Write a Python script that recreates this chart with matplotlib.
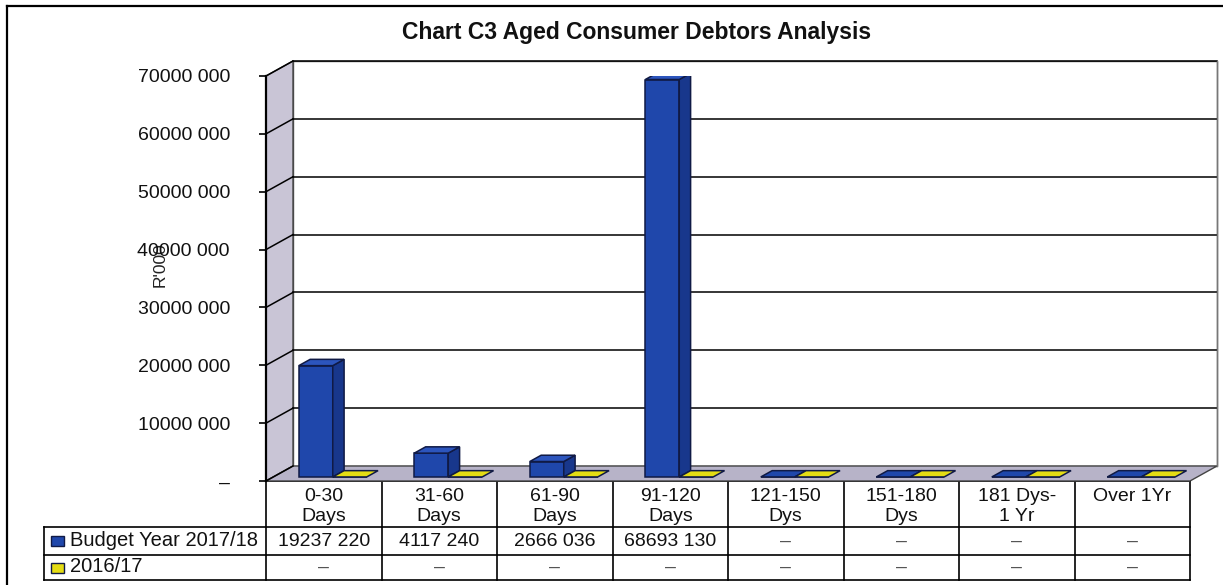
import matplotlib.pyplot as plt
from matplotlib.patches import Polygon, Rectangle
from matplotlib.transforms import blended_transform_factory

plt.rcParams['font.family'] = ['Liberation Sans', 'DejaVu Sans']

# data
categories = ['0-30\nDays', '31-60\nDays', '61-90\nDays', '91-120\nDays',
              '121-150\nDys', '151-180\nDys', '181 Dys-\n1 Yr', 'Over 1Yr']
budget_2017 = [19237220, 4117240, 2666036, 68693130, 0, 0, 0, 0]
prior_2016 = [0, 0, 0, 0, 0, 0, 0, 0]
series_names = ['Budget Year 2017/18', '2016/17']
yticks = [0, 10000000, 20000000, 30000000, 40000000, 50000000, 60000000, 70000000]


def fmt(v):
    # same odd grouping as the source sheet: "19237 220"
    if v == 0:
        return '\u2013'
    return f'{v // 1000} {v % 1000:03d}'


W, H = 1223, 585
fig = plt.figure(figsize=(W / 100, H / 100), dpi=100)

# background axes in pixel units for frame, title and table
bg = fig.add_axes([0, 0, 1, 1])
bg.set_xlim(0, W)
bg.set_ylim(H, 0)
bg.axis('off')

# main plot area (front plane of the 3d box)
ax = fig.add_axes([266 / W, (H - 481) / H, 924 / W, 405 / H])
ax.set_xlim(-0.5, 7.5)
ax.set_ylim(0, 70000000)
ax.patch.set_visible(False)
for s in ['top', 'right', 'bottom']:
    ax.spines[s].set_visible(False)
ax.spines['left'].set_linewidth(1.6)
ax.set_xticks([])
ax.set_yticks(yticks, [fmt(v) for v in yticks])
ax.tick_params(axis='y', length=5, width=1.2, pad=21, labelsize=14, labelcolor='#111111')

# depth of the box in data units
DX = 27 / 115.5
DY = 15 * 70000000 / 405
x0, x1 = -0.5, 7.5
ytop = 70000000

wall_col = '#c9c5d6'
floor_col = '#b7b3c8'

# back wall
ax.add_patch(Polygon([(x0 + DX, DY), (x0 + DX, ytop + DY), (x1 + DX, ytop + DY), (x1 + DX, DY)],
                     closed=True, facecolor='white', edgecolor='#555555', lw=1.0,
                     clip_on=False, zorder=0.5))
# side wall
ax.add_patch(Polygon([(x0, 0), (x0, ytop), (x0 + DX, ytop + DY), (x0 + DX, DY)],
                     closed=True, facecolor=wall_col, edgecolor='#444444', lw=1.0,
                     clip_on=False, zorder=0.6))
# floor
ax.add_patch(Polygon([(x0, 0), (x1, 0), (x1 + DX, DY), (x0 + DX, DY)],
                     closed=True, facecolor=floor_col, edgecolor='#444444', lw=1.0,
                     clip_on=False, zorder=0.6))

# gridlines on back and side wall
for t in yticks[1:]:
    ax.plot([x0 + DX, x1 + DX], [t + DY, t + DY], color='black', lw=1.1, clip_on=False, zorder=0.8)
    ax.plot([x0, x0 + DX], [t, t + DY], color='black', lw=1.1, clip_on=False, zorder=0.8)
ax.plot([x0, x0 + DX], [0, DY], color='black', lw=1.1, clip_on=False, zorder=0.8)
ax.plot([x1 + DX, x1 + DX], [DY, ytop + DY], color='#777777', lw=1.0, clip_on=False, zorder=0.8)

# 3d bars
bw = 0.294
f0 = 0.27
ddx, ddy = 0.42 * DX, 0.42 * DY
base = f0 * DY
series = [
    (budget_2017, -0.216, '#1f47ab', '#18378c', '#2c55bd'),
    (prior_2016, -0.216 + bw, '#e4dc14', '#b8b010', '#ece424'),
]
edge = '#101a45'
for vals, off, front, side, top in series:
    xs = [i + off for i in range(len(vals))]
    ax.bar(xs, vals, width=bw, bottom=base, align='edge', color=front,
           edgecolor=edge, lw=1.1, zorder=3)
    for x, v in zip(xs, vals):
        t = base + v
        if v > 0:
            ax.add_patch(Polygon([(x + bw, base), (x + bw + ddx, base + ddy),
                                  (x + bw + ddx, t + ddy), (x + bw, t)],
                                 closed=True, facecolor=side, edgecolor=edge, lw=1.1, zorder=3))
        ax.add_patch(Polygon([(x, t), (x + bw, t), (x + bw + ddx, t + ddy), (x + ddx, t + ddy)],
                             closed=True, facecolor=top if v > 0 else front,
                             edgecolor=edge, lw=1.1, zorder=3))

# y label
bg.text(160, 265, "R'000", rotation=90, ha='center', va='center', fontsize=12.5,
        color='#222222')

# title
bg.text(637, 32, 'Chart C3 Aged Consumer Debtors Analysis', ha='center', va='center',
        fontsize=16.5, fontweight='bold', color='#111111')

# outer frame
bg.plot([7, 7], [H, 6], color='black', lw=1.6)
bg.plot([7, W], [6, 6], color='black', lw=1.6)

# data table
tr = blended_transform_factory(ax.transData, bg.transData)
rows_y = [481, 527, 555, 580]
bg.plot([266, 1190], [481, 481], color='black', lw=1.3)
for y in rows_y[1:]:
    bg.plot([44, 1190], [y, y], color='black', lw=1.2)
bg.plot([44, 44], [527, 580], color='black', lw=1.2)
for k in range(len(categories) + 1):
    bg.plot([x0 + k, x0 + k], [481, 580], color='black', lw=1.2, transform=tr)

fs = 14
for i, cat in enumerate(categories):
    bg.text(i, 488, cat, ha='center', va='top', fontsize=fs, linespacing=1.2,
            color='#111111', transform=tr)
    bg.text(i, 541, fmt(budget_2017[i]), ha='center', va='center', fontsize=fs,
            color='#111111' if budget_2017[i] else '#555555', transform=tr)
    bg.text(i, 567, fmt(prior_2016[i]), ha='center', va='center', fontsize=fs,
            color='#111111' if prior_2016[i] else '#555555', transform=tr)

# legend keys inside the table
bg.add_patch(Rectangle((51, 536), 13, 10, facecolor='#1f47ab', edgecolor=edge, lw=1.0))
bg.add_patch(Rectangle((51, 563), 13, 10, facecolor='#e4dc14', edgecolor=edge, lw=1.0))
bg.text(70, 541, series_names[0], ha='left', va='center', fontsize=14.5, color='#111111')
bg.text(70, 567, series_names[1], ha='left', va='center', fontsize=14.5, color='#111111')

fig.savefig('out.png', dpi=100)
